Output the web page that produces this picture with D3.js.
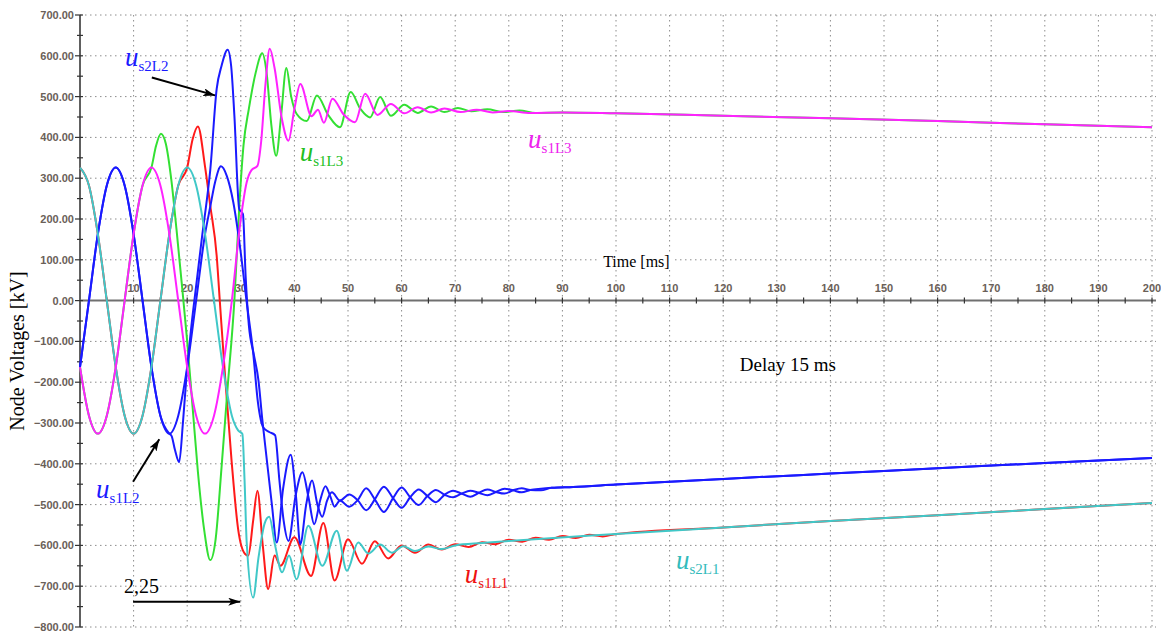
<!DOCTYPE html>
<html>
<head>
<meta charset="utf-8">
<script src="https://cdn.jsdelivr.net/npm/d3@7"></script>
<style>
  html, body { margin: 0; padding: 0; background: #fff; }
  svg { display: block; }
</style>
</head>
<body>
<svg width="1161" height="633"></svg>
<script>
// Node voltages [kV] vs time [ms] as [t, v] pairs

// common part of each phase before the two nodes split
const phaseL1 = [[0,326],[1.67,282],[3.33,163],[5,0],[6.67,-163],[8.33,-282],[10,-326],[11.67,-282],[13.33,-163],[15,0],[16.67,163],[18.33,282],[20,326]];
const phaseL2 = [[0,-163],[1.67,0],[3.33,163],[5,282],[6.67,326],[8.33,282],[10,163],[11.67,0],[13.33,-163],[15,-282],[16.67,-326]];
const phaseL3 = [[0,-163],[1.67,-282],[3.33,-326],[5,-282],[6.67,-163],[8.33,0],[10,163],[11.67,282],[13.33,326]];

const s1L1Tail = [[21,395],[22,427],[23.3,331],[24.3,233],[25.5,110],[26.1,-4],[27.1,-192],[28.3,-396],[29.5,-560],[30.8,-621],[31.4,-625],[32.3,-540],[33.1,-466],[34.1,-600],[35.1,-707],[36.3,-625],[37.4,-650],[40,-580],[43.1,-675],[45.4,-545],[47.5,-686],[50,-585],[52.6,-645],[55,-590],[57.5,-632],[60,-600],[62.5,-618],[65,-598],[67.5,-610],[70,-597],[72.5,-604],[75,-592],[77.5,-597],[80,-586],[82.5,-591],[85,-581],[87.5,-586],[90,-577],[92.5,-582],[95,-574],[97.5,-578]];
const s2L1Tail = [[21.67,282],[23.33,163],[25,0],[26.67,-163],[28.33,-282],[29.5,-318],[30.3,-327],[30.7,-440],[31.1,-593],[32.3,-728],[33.3,-630],[34.5,-544],[35.3,-530],[36.4,-600],[37.7,-666],[39,-625],[40.4,-683],[42.6,-552],[45.2,-650],[47.9,-564],[49.8,-662],[51.9,-593],[53.8,-620],[56,-598],[58.2,-618],[60.3,-602],[62.5,-614],[65,-603],[67.5,-609],[70,-600],[75,-594],[80,-589]];
const l1Steady = [[100,-572],[120,-556],[140,-540],[160,-526],[180,-511],[200,-496]];

const s1L2Tail = [[17.1,-332],[17.7,-365],[18.5,-396],[19.2,-300],[19.9,-180],[20.8,-60],[21.8,50],[22.8,160],[23.6,240],[24.3,320],[25.5,519],[26.4,575],[27.55,615],[28.2,575],[28.8,454],[29.7,225],[30.4,212],[30.9,60],[31.5,-60],[32.4,-130],[33.3,-196],[34,-290],[34.8,-384],[35.8,-500],[36.7,-593],[37.9,-460],[39.3,-378],[40.3,-480],[41.1,-597],[42.2,-500],[43.3,-441],[44.3,-500],[45.2,-530],[46.1,-490],[47,-470],[48.5,-490],[50.2,-475],[51.8,-489],[53.4,-514],[55,-487],[56.7,-456],[58.4,-484],[60,-508],[61.6,-482],[63.2,-463],[64.8,-479],[66.4,-494],[68,-476],[69.6,-466],[71.2,-473],[72.8,-481],[74.4,-471],[76,-463],[77.6,-469],[79.2,-473],[80.8,-465],[82.4,-460],[84,-464],[86,-465],[88,-459],[92,-457]];
const s2L2Tail = [[18.33,-282],[20,-163],[21.67,0],[23.33,163],[24.3,230],[25.2,290],[26.3,329],[27.4,305],[28.6,241],[29.9,127],[31.1,-4],[32.3,-127],[33.2,-250],[34.2,-311],[35.3,-322],[36.4,-330],[37.2,-440],[38,-540],[38.9,-589],[40.2,-480],[41.5,-421],[42.6,-480],[43.7,-548],[44.8,-490],[45.8,-455],[46.7,-480],[47.5,-505],[48.5,-490],[50.2,-505],[51.8,-489],[53.4,-460],[55,-487],[56.7,-518],[58.4,-484],[60,-458],[61.6,-482],[63.2,-501],[64.8,-479],[66.4,-464],[68,-476],[69.6,-482],[71.2,-473],[72.8,-466],[74.4,-471],[76,-477],[77.6,-469],[79.2,-461],[80.8,-465],[82.4,-470],[84,-464],[86,-461],[88,-459],[92,-457]];
const l2Steady = [[100,-451],[120,-437],[140,-424],[160,-411],[180,-398],[200,-386]];

const s1L3Tail = [[14.2,380],[15.1,409],[16,385],[17,300],[18,175],[19,40],[20,-100],[21,-260],[22,-420],[23.2,-565],[24.3,-636],[25.3,-585],[26.4,-410],[27.5,-220],[28.8,0],[29.8,250],[30.5,380],[31.5,470],[32.8,560],[34,606],[34.8,560],[35.7,430],[36.6,355],[37.5,450],[38.5,570],[39.4,500],[40.4,458],[42.3,440],[44.2,503],[46.3,455],[48.5,425],[50.5,511],[52.3,470],[54.1,449],[56,499],[58,453],[60.5,480],[63,460],[65.5,476],[68,462],[70.5,472],[73,464],[76,469],[79,462],[82,466],[85,460],[90,461]];
const s2L3Tail = [[15,282],[16.67,163],[18.33,0],[20,-163],[21.67,-282],[23.33,-326],[25,-282],[26.67,-163],[28.33,0],[29.9,190],[31.1,290],[32,320],[33.1,330],[33.8,390],[34.6,530],[35.4,617],[36.3,570],[37.6,450],[38.9,392],[40,470],[41.1,531],[43.2,452],[44.4,468],[45.5,436],[47.1,495],[49.2,456],[51.3,437],[53.2,507],[55.5,455],[58,482],[60.5,459],[63,474],[65.5,461],[68,471],[71,462],[74,468],[77,461],[80,465],[84,460],[90,461]];
const l3Steady = [[100,459],[120,453],[140,447],[160,440],[180,432],[200,425]];

// drawing order: later ones lie on top
const series = [
  { name: "s1L1", color: "#ff1a1a", points: phaseL1.concat(s1L1Tail, l1Steady) },
  { name: "s1L3", color: "#33e033", points: phaseL3.concat(s1L3Tail, l3Steady) },
  { name: "s1L2", color: "#1a1aff", points: phaseL2.concat(s1L2Tail, l2Steady) },
  { name: "s2L2", color: "#1a1aff", points: phaseL2.concat(s2L2Tail, l2Steady) },
  { name: "s2L1", color: "#40c8c8", points: phaseL1.concat(s2L1Tail, l1Steady) },
  { name: "s2L3", color: "#ff22ff", points: phaseL3.concat(s2L3Tail, l3Steady) }
];

const xTicks = d3.range(10, 201, 10);
const yTicks = d3.range(-800, 701, 100);

// curve labels: [t, v] of the "u", subscript, colour
const curveLabels = [
  { t: 8.4, v: 576, sub: "s2L2", color: "#1a1aff" },
  { t: 41.0, v: 341, sub: "s1L3", color: "#22c022" },
  { t: 83.6, v: 375, sub: "s1L3", color: "#ee22ee" },
  { t: 3.0, v: -483, sub: "s1L2", color: "#1a1aff" },
  { t: 71.8, v: -692, sub: "s1L1", color: "#ee1111" },
  { t: 111.2, v: -657, sub: "s2L1", color: "#33bbbb" }
];
const arrows = [
  { from: [13.4, 547], to: [25.2, 503] },
  { from: [9.9, -444], to: [14.8, -340] },
  { from: [9.9, -738], to: [29.9, -738] }
];

const svg = d3.select("svg");
const serif = "'Liberation Serif', 'Times New Roman', serif";
const sans = "'Liberation Sans', Arial, sans-serif";

const x = d3.scaleLinear().domain([0, 200]).range([80, 1152]);
const y = d3.scaleLinear().domain([-800, 700]).range([627, 15]);
const right = 1156;

// dotted grid
svg.append("g")
  .selectAll("line")
  .data(yTicks.filter(d => d !== 0))
  .join("line")
    .attr("x1", x(0)).attr("x2", right)
    .attr("y1", d => y(d)).attr("y2", d => y(d))
    .attr("stroke", "#8c8c8c")
    .attr("stroke-width", 1)
    .attr("stroke-dasharray", "1.5,3.5");

svg.append("g")
  .selectAll("line")
  .data(xTicks)
  .join("line")
    .attr("x1", d => x(d)).attr("x2", d => x(d))
    .attr("y1", y(700)).attr("y2", y(-800))
    .attr("stroke", "#8c8c8c")
    .attr("stroke-width", 1)
    .attr("stroke-dasharray", "1.5,3.5");

// x axis on the zero line
svg.append("line")
  .attr("x1", x(0)).attr("x2", right)
  .attr("y1", y(0)).attr("y2", y(0))
  .attr("stroke", "#707070")
  .attr("stroke-width", 2);

svg.append("g")
  .selectAll("line")
  .data(d3.range(5, 201, 5))
  .join("line")
    .attr("x1", d => x(d)).attr("x2", d => x(d))
    .attr("y1", y(0) - 3).attr("y2", y(0) + 3)
    .attr("stroke", "#333")
    .attr("stroke-width", 1.2);

svg.append("g")
  .selectAll("text")
  .data(xTicks)
  .join("text")
    .attr("x", d => x(d))
    .attr("y", y(0) - 9)
    .attr("text-anchor", "middle")
    .attr("font-family", sans)
    .attr("font-size", 11)
    .attr("font-weight", "bold")
    .attr("fill", "#6a6058")
    .text(d => d);

// y axis
svg.append("line")
  .attr("x1", x(0)).attr("x2", x(0))
  .attr("y1", y(700)).attr("y2", y(-800))
  .attr("stroke", "#606060")
  .attr("stroke-width", 2);

svg.append("g")
  .selectAll("line")
  .data(d3.range(-800, 701, 50))
  .join("line")
    .attr("x1", d => x(0) - (d % 100 === 0 ? 5 : 3))
    .attr("x2", x(0) + 3)
    .attr("y1", d => y(d)).attr("y2", d => y(d))
    .attr("stroke", "#333")
    .attr("stroke-width", 1.2);

svg.append("g")
  .selectAll("text")
  .data(yTicks)
  .join("text")
    .attr("x", x(0) - 6)
    .attr("y", d => y(d) + 4)
    .attr("text-anchor", "end")
    .attr("font-family", sans)
    .attr("font-size", 11)
    .attr("font-weight", "bold")
    .attr("fill", "#6a6058")
    .text(d => d3.format(".2f")(d));

svg.append("text")
  .attr("transform", "translate(24,351) rotate(-90)")
  .attr("text-anchor", "middle")
  .attr("font-family", serif)
  .attr("font-size", 20)
  .attr("fill", "#000")
  .text("Node Voltages [kV]");

// "Time [ms]" sits on a white patch that cuts the grid line
const timeGroup = svg.append("g");
const timePatch = timeGroup.append("rect").attr("fill", "#fff");
const timeLabel = timeGroup.append("text")
  .attr("x", x(97.6))
  .attr("y", y(83))
  .attr("font-family", serif)
  .attr("font-size", 16)
  .attr("fill", "#000")
  .text("Time [ms]");
const tb = timeLabel.node().getBBox();
timePatch
  .attr("x", tb.x - 4).attr("y", tb.y)
  .attr("width", tb.width + 8).attr("height", tb.height);

// curves
const line = d3.line()
  .x(d => x(d[0]))
  .y(d => y(d[1]))
  .curve(d3.curveMonotoneX);

svg.append("g")
  .selectAll("path")
  .data(series)
  .join("path")
    .attr("fill", "none")
    .attr("stroke", d => d.color)
    .attr("stroke-width", 2)
    .attr("stroke-linejoin", "round")
    .attr("d", d => line(d.points));

// annotations
svg.append("text")
  .attr("x", x(123.1))
  .attr("y", y(-172))
  .attr("font-family", serif)
  .attr("font-size", 19)
  .text("Delay 15 ms");

svg.append("text")
  .attr("x", x(8.2))
  .attr("y", y(-716))
  .attr("font-family", serif)
  .attr("font-size", 20)
  .text("2,25");

const labels = svg.append("g")
  .selectAll("text")
  .data(curveLabels)
  .join("text")
    .attr("x", d => x(d.t))
    .attr("y", d => y(d.v))
    .attr("font-family", serif)
    .attr("fill", d => d.color);
labels.append("tspan")
  .attr("font-style", "italic")
  .attr("font-size", 27)
  .text("u");
labels.append("tspan")
  .attr("font-size", 15)
  .attr("dy", 5)
  .text(d => d.sub);

svg.append("defs").append("marker")
    .attr("id", "head")
    .attr("viewBox", "0 0 12 8")
    .attr("refX", 12).attr("refY", 4)
    .attr("markerWidth", 12).attr("markerHeight", 8)
    .attr("markerUnits", "userSpaceOnUse")
    .attr("orient", "auto")
  .append("path")
    .attr("d", "M0,0 L12,4 L0,8 L3,4 Z")
    .attr("fill", "#000");

svg.append("g")
  .selectAll("line")
  .data(arrows)
  .join("line")
    .attr("x1", d => x(d.from[0])).attr("y1", d => y(d.from[1]))
    .attr("x2", d => x(d.to[0])).attr("y2", d => y(d.to[1]))
    .attr("stroke", "#000")
    .attr("stroke-width", 2)
    .attr("marker-end", "url(#head)");
</script>
</body>
</html>
